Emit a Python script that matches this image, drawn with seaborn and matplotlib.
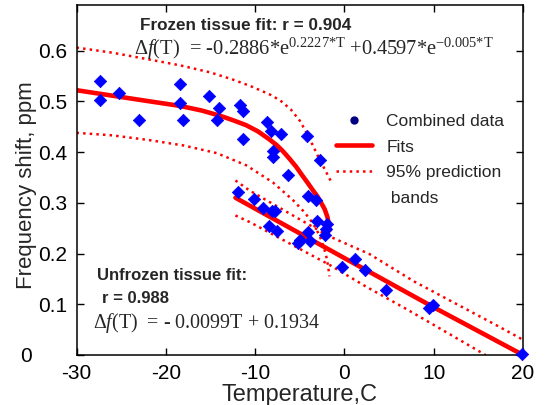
import matplotlib
matplotlib.use("Agg")
import matplotlib.pyplot as plt
import matplotlib.transforms as mtransforms
from matplotlib.lines import Line2D
import seaborn as sns

# combined measurements, temperature (C) vs frequency shift (ppm)
temp_data = [-27.4, -27.4, -25.2, -23.0, -18.4, -18.4, -18.1, -15.2, -14.0, -14.3,
             -11.7, -11.4, -11.4, -8.7, -8.2, -7.1, -8.0, -8.0, -6.3, -4.2,
             -2.7, -11.9, -10.1, -9.1, -8.1, -7.8, -8.5, -7.5, -4.1, -3.2,
             -3.1, -4.1, -5.0, -5.2, -3.9, -1.9, -2.1, -2.2, 1.2, -0.3,
             2.3, 4.7, 9.5, 9.9, 19.9]
shift_data = [0.541, 0.503, 0.517, 0.464, 0.534, 0.496, 0.464, 0.510, 0.486, 0.464,
              0.493, 0.481, 0.425, 0.460, 0.441, 0.435, 0.402, 0.391, 0.355, 0.432,
              0.385, 0.322, 0.308, 0.289, 0.283, 0.283, 0.254, 0.245, 0.314, 0.305,
              0.265, 0.243, 0.227, 0.221, 0.224, 0.259, 0.248, 0.237, 0.189, 0.173,
              0.168, 0.128, 0.092, 0.099, 0.002]

# frozen tissue fit and its 95% prediction bands
frozen_fit_t = [-30, -23.3, -18.4, -16, -14, -12.5, -11, -9.7, -8.4, -7.6, -6.9,
                -6.2, -5.4, -4.8, -4.1, -3.5, -3.0, -2.6, -2.2, -1.9, -1.75, -1.68]
frozen_fit_f = [0.522, 0.504, 0.491, 0.482, 0.472, 0.463, 0.453, 0.441, 0.425, 0.414, 0.402,
                0.388, 0.371, 0.356, 0.339, 0.324, 0.312, 0.300, 0.287, 0.272, 0.258, 0.246]
frozen_hi_t = [-30, -26, -22, -18.4, -15, -12.5, -10.5, -8.4, -7.2, -6.0, -5.0,
               -4.2, -3.5, -2.8, -2.2, -1.5]
frozen_hi_f = [0.606, 0.596, 0.583, 0.571, 0.557, 0.543, 0.530, 0.514, 0.502, 0.484, 0.462,
               0.437, 0.412, 0.386, 0.366, 0.342]
frozen_lo_t = [-30, -26, -22, -18, -14.3, -11, -8, -5.8, -4.5, -3.5, -2.8, -2.3, -2.0, -1.8, -1.68]
frozen_lo_f = [0.438, 0.433, 0.424, 0.413, 0.398, 0.374, 0.340, 0.306, 0.282, 0.259, 0.236,
               0.212, 0.192, 0.172, 0.155]

# unfrozen tissue fit and bands
unfrozen_fit_t = [-12.2, 0.0, 10.0, 20.0]
unfrozen_fit_f = [0.310, 0.191, 0.094, 0.0]
unfrozen_hi_t = [-12.2, -10.6, -1.7, 2.8, 7.8, 17.3, 20.0]
unfrozen_hi_f = [0.344, 0.324, 0.234, 0.199, 0.145, 0.056, 0.030]
unfrozen_lo_t = [-12.2, -10.6, -1.7, 2.4, 7.1, 15.8]
unfrozen_lo_f = [0.275, 0.262, 0.178, 0.135, 0.089, 0.0]

x_ticks = [-30, -20, -10, 0, 10, 20]
y_ticks = [0, 0.1, 0.2, 0.3, 0.4, 0.5, 0.6]
y_tick_labels = ["0", "0.1", "0.2", "0.3", "0.4", "0.5", "0.6"]
legend_labels = ["Combined data", "Fits", "95% prediction", " bands"]

sns.set_theme(style="ticks")
plt.rcParams["font.family"] = ["Liberation Sans", "DejaVu Sans"]
plt.rcParams["axes.unicode_minus"] = False
plt.rcParams["mathtext.fontset"] = "custom"
plt.rcParams["mathtext.rm"] = "Liberation Serif"
plt.rcParams["mathtext.it"] = "Liberation Serif:italic"

fig = plt.figure(figsize=(5.48, 4.05), dpi=100)
ax = fig.add_axes([0.1396, 0.1235, 0.8148, 0.8642])

band_kw = dict(color="red", linewidth=1.8, linestyle=":", sort=False, estimator=None, ax=ax)
sns.lineplot(x=frozen_hi_t, y=frozen_hi_f, **band_kw)
sns.lineplot(x=frozen_lo_t, y=frozen_lo_f, **band_kw)
sns.lineplot(x=unfrozen_hi_t, y=unfrozen_hi_f, **band_kw)
sns.lineplot(x=unfrozen_lo_t, y=unfrozen_lo_f, **band_kw)

fit_kw = dict(color="red", linewidth=3.3, sort=False, estimator=None, ax=ax)
sns.lineplot(x=frozen_fit_t, y=frozen_fit_f, **fit_kw)
sns.lineplot(x=unfrozen_fit_t, y=unfrozen_fit_f, **fit_kw)
for line in ax.lines:
    line.set_solid_joinstyle("round")

sns.scatterplot(x=temp_data, y=shift_data, marker="D", color="#0000ff",
                edgecolor="#0000ff", linewidth=0.5, s=40, ax=ax, zorder=3)
for coll in ax.collections:
    coll.set_clip_on(False)

ax.set_xlim(-30, 20)
ax.set_ylim(0, 0.69)
ax.set_xticks(x_ticks)
ax.set_xticklabels([str(v) for v in x_ticks])
ax.set_yticks(y_ticks)
ax.set_yticklabels(y_tick_labels)
ax.tick_params(direction="in", length=5, width=1, top=True, right=True,
               labelsize=15, pad=6.5, colors="black")
for side in ["left", "right", "top", "bottom"]:
    ax.spines[side].set_visible(True)
    ax.spines[side].set_color("black")
    ax.spines[side].set_linewidth(1.1)

# the "0" label sits off to the left in the original
zero_lbl = ax.yaxis.get_major_ticks()[0].label1
zero_lbl.set_transform(zero_lbl.get_transform()
                       + mtransforms.ScaledTranslation(-0.36, 0, fig.dpi_scale_trans))

ax.set_xlabel("Temperature,C", fontsize=17)
ax.xaxis.set_label_coords(0.5, -0.083)
ax.set_ylabel("Frequency shift, ppm", fontsize=16)
ax.yaxis.set_label_coords(-0.088, 0.484)

serif = ["Liberation Serif", "DejaVu Serif"]
ax.text(0.142, 0.929, "Frozen tissue fit: r = 0.904", transform=ax.transAxes,
        fontsize=12.3, fontweight="bold", va="baseline")
ax.text(0.129, 0.857,
        r"$\Delta f$(T)  = -0.2886*e$^{0.2227{*}\mathrm{T}}$ +0.4597*e$^{{-}0.005{*}\mathrm{T}}$",
        transform=ax.transAxes, fontsize=14.8, family=serif, va="baseline")
ax.text(0.045, 0.214, "Unfrozen tissue fit:", transform=ax.transAxes,
        fontsize=12, fontweight="bold", va="baseline")
ax.text(0.056, 0.149, "r = 0.988", transform=ax.transAxes,
        fontsize=12, fontweight="bold", va="baseline")
ax.text(0.037, 0.077, r"$\Delta f$(T)  = - 0.0099T + 0.1934", transform=ax.transAxes,
        fontsize=14.4, family=serif, va="baseline")

# second line of the bands label gets its own empty-handle row
handles = [
    Line2D([], [], linestyle="none", marker="o", color="#000080", markersize=5),
    Line2D([], [], color="red", linewidth=3.3),
    Line2D([], [], color="red", linewidth=1.8, linestyle=":"),
    Line2D([], [], linestyle="none"),
]
leg = ax.legend(handles, legend_labels,
                loc="upper left", bbox_to_anchor=(0.581, 0.69), frameon=False,
                fontsize=12.5, handlelength=2.1, handletextpad=0.8,
                labelspacing=0.62, borderpad=0, borderaxespad=0)

fig.savefig("out.png", dpi=100)
plt.close(fig)
